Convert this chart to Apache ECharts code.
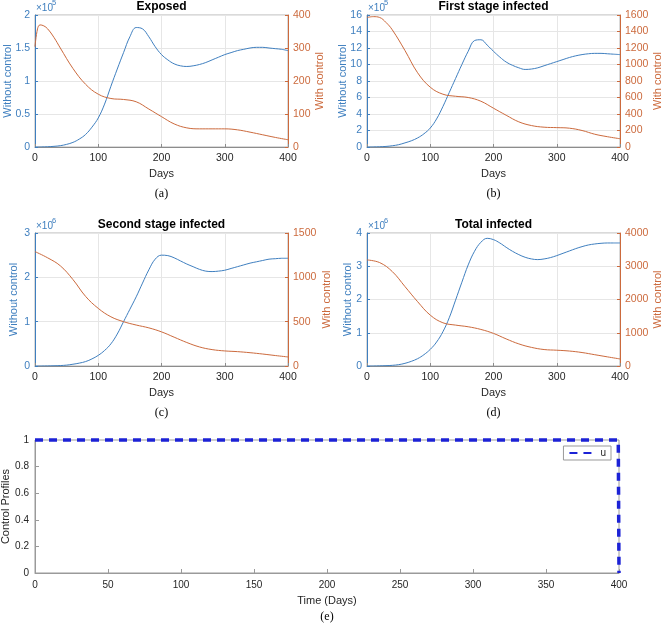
<!DOCTYPE html>
<html>
<head>
<meta charset="utf-8">
<script src="https://cdn.jsdelivr.net/npm/echarts@6/dist/echarts.min.js"></script>
<style>
html, body { margin: 0; padding: 0; background: #fff; }
#main { width: 664px; height: 624px; }
</style>
</head>
<body>
<div id="main"></div>
<script>
// days for the "without control" curves (every 10 days)
var days = [0,10,20,30,40,50,60,70,80,90,100,110,120,130,140,150,160,170,180,190,200,210,220,230,240,250,260,270,280,290,300,310,320,330,340,350,360,370,380,390,400];

// without control, in units of 10^5 (a, b) and 10^6 (c, d)
var exposedWithout = [0,0.001,0.004,0.01,0.02,0.04,0.07,0.12,0.19,0.30,0.44,0.65,0.92,1.18,1.43,1.67,1.81,1.79,1.67,1.52,1.40,1.32,1.26,1.23,1.22,1.23,1.25,1.28,1.32,1.36,1.40,1.43,1.46,1.48,1.50,1.51,1.51,1.50,1.49,1.48,1.46];
var firstWithout = [0,0.01,0.03,0.07,0.15,0.28,0.5,0.75,1.1,1.6,2.3,3.4,4.9,6.6,8.3,10.0,11.6,12.9,13.0,12.35,11.6,10.9,10.3,9.9,9.6,9.4,9.45,9.6,9.85,10.1,10.35,10.6,10.85,11.05,11.2,11.3,11.35,11.35,11.3,11.25,11.2];
var secondWithout = [0,0,0.002,0.005,0.01,0.02,0.04,0.065,0.1,0.16,0.24,0.35,0.5,0.72,1.0,1.28,1.56,1.87,2.17,2.41,2.50,2.49,2.44,2.37,2.30,2.24,2.18,2.14,2.13,2.14,2.16,2.20,2.24,2.28,2.32,2.35,2.38,2.41,2.42,2.43,2.43];
var totalWithout = [0,0,0.005,0.01,0.02,0.04,0.08,0.14,0.22,0.34,0.5,0.72,1.03,1.45,1.98,2.52,3.04,3.45,3.72,3.84,3.80,3.70,3.57,3.45,3.35,3.27,3.22,3.20,3.22,3.26,3.32,3.39,3.46,3.53,3.59,3.64,3.67,3.69,3.70,3.70,3.70];

// with control, [day, value]
var exposedWith = [[0,304],[4,358],[8,370],[14,367],[20,358],[30,332],[40,300],[60,238],[80,190],[100,160],[120,147],[140,144],[160,137],[180,115],[200,92],[220,70],[240,58],[260,55],[280,55],[300,55],[320,52],[340,45],[360,37],[380,29],[400,22]];
var firstWith = [[0,1570],[10,1580],[20,1570],[30,1510],[40,1420],[60,1170],[80,900],[100,725],[120,640],[140,615],[160,600],[180,555],[200,470],[220,385],[240,305],[260,260],[280,240],[300,235],[320,228],[340,200],[360,155],[380,125],[400,100]];
var secondWith = [[0,1290],[20,1220],[40,1130],[60,975],[80,785],[100,650],[120,555],[140,500],[160,462],[180,430],[200,385],[220,325],[240,265],[260,215],[280,185],[300,170],[320,162],[340,150],[360,135],[380,118],[400,102]];
var totalWith = [[0,3190],[20,3110],[40,2840],[60,2390],[80,1935],[100,1530],[120,1300],[140,1230],[160,1180],[180,1100],[200,980],[220,815],[240,665],[260,560],[280,495],[300,475],[320,450],[340,405],[360,340],[380,275],[400,212]];

var controlU = [[0,1],[399.5,1],[400,0]];

var blue = '#3F7FBF';
var orange = '#CC6A3D';
var dark = '#262626';
var font = '"Liberation Sans", Arial, sans-serif';

var panels = [
	{title: 'Exposed', cap: '(a)', exp: '5', left: 35, top: 15, h: 132, lmax: 2, lint: 0.5, rmax: 400, rint: 100, lGap: 22, rGap: 26, without: exposedWithout, withc: exposedWith},
	{title: 'First stage infected', cap: '(b)', exp: '5', left: 367, top: 15, h: 132, lmax: 16, lint: 2, rmax: 1600, rint: 200, lGap: 19, rGap: 32, without: firstWithout, withc: firstWith},
	{title: 'Second stage infected', cap: '(c)', exp: '6', left: 35, top: 233, h: 133, lmax: 3, lint: 1, rmax: 1500, rint: 500, lGap: 16, rGap: 33, without: secondWithout, withc: secondWith},
	{title: 'Total infected', cap: '(d)', exp: '6', left: 367, top: 233, h: 133, lmax: 4, lint: 1, rmax: 4000, rint: 1000, lGap: 14, rGap: 32, without: totalWithout, withc: totalWith}
];

var grids = [], xAxes = [], yAxes = [], series = [], graphics = [];

function plain(v) { return String(v); }

function txt(x, y, s, f, color, align) {
	graphics.push({
		type: 'text', x: x, y: y, z: 100,
		style: {text: s, font: f, fill: color, align: align || 'center', verticalAlign: 'middle'}
	});
}

panels.forEach(function (p, i) {
	var w = 253;
	grids.push({left: p.left, top: p.top, width: w, height: p.h, show: true, borderColor: '#b4b4b4', borderWidth: 1, outerBoundsMode: 'none', containLabel: false});
	xAxes.push({
		type: 'value', gridIndex: i, min: 0, max: 400, interval: 100,
		axisLine: {lineStyle: {color: '#8c8c8c'}},
		axisTick: {inside: true, length: 3, lineStyle: {color: '#8c8c8c'}},
		axisLabel: {color: dark, fontSize: 10.5, fontFamily: font, margin: 6, formatter: plain},
		splitLine: {show: true, lineStyle: {color: '#e6e6e6'}},
		name: 'Days', nameLocation: 'middle', nameGap: 21, nameMoveOverlap: false,
		nameTextStyle: {color: dark, fontSize: 11, fontFamily: font}
	});
	yAxes.push({
		type: 'value', gridIndex: i, position: 'left', min: 0, max: p.lmax, interval: p.lint,
		axisLine: {show: true, lineStyle: {color: blue}},
		axisTick: {show: true, inside: true, length: 3, lineStyle: {color: blue}},
		axisLabel: {color: blue, fontSize: 10.5, fontFamily: font, margin: 5, formatter: plain},
		splitLine: {show: true, lineStyle: {color: '#e6e6e6'}},
		name: 'Without control', nameLocation: 'middle', nameRotate: 90, nameGap: p.lGap, nameMoveOverlap: false,
		nameTextStyle: {color: blue, fontSize: 11, fontFamily: font}
	});
	yAxes.push({
		type: 'value', gridIndex: i, position: 'right', min: 0, max: p.rmax, interval: p.rint,
		axisLine: {show: true, lineStyle: {color: orange}},
		axisTick: {show: true, inside: true, length: 3, lineStyle: {color: orange}},
		axisLabel: {color: orange, fontSize: 10.5, fontFamily: font, margin: 5, formatter: plain},
		splitLine: {show: false},
		name: 'With control', nameLocation: 'middle', nameRotate: 90, nameGap: p.rGap, nameMoveOverlap: false,
		nameTextStyle: {color: orange, fontSize: 11, fontFamily: font}
	});
	series.push({
		type: 'line', xAxisIndex: i, yAxisIndex: 2 * i,
		data: days.map(function (d, k) { return [d, p.without[k]]; }),
		smooth: 0.4, symbol: 'none',
		lineStyle: {color: blue, width: 1}
	});
	series.push({
		type: 'line', xAxisIndex: i, yAxisIndex: 2 * i + 1, data: p.withc,
		smooth: 0.4, symbol: 'none',
		lineStyle: {color: orange, width: 1}
	});
	var cx = p.left + w / 2;
	txt(cx, p.top - 8, p.title, 'bold 12px ' + font, '#000');
	txt(cx, p.top + p.h + 47, p.cap, '12px "Liberation Serif", "Times New Roman", serif', '#000');
	txt(p.left + 1, p.top - 7, '\u00d710', '10px ' + font, blue, 'left');
	txt(p.left + 17, p.top - 12, p.exp, '7.5px ' + font, blue, 'left');
});

// (e) control profile
grids.push({left: 35, top: 440, width: 584, height: 133, show: true, borderColor: '#9a9a9a', borderWidth: 1, outerBoundsMode: 'none', containLabel: false});
xAxes.push({
	type: 'value', gridIndex: 4, min: 0, max: 400, interval: 50,
	axisLine: {lineStyle: {color: '#9a9a9a'}},
	axisTick: {inside: true, length: 4, lineStyle: {color: '#9a9a9a'}},
	axisLabel: {color: dark, fontSize: 10, fontFamily: font, margin: 7, formatter: plain},
	splitLine: {show: false},
	name: 'Time (Days)', nameLocation: 'middle', nameGap: 22, nameMoveOverlap: false,
	nameTextStyle: {color: dark, fontSize: 11, fontFamily: font}
});
yAxes.push({
	type: 'value', gridIndex: 4, min: 0, max: 1, interval: 0.2,
	axisLine: {show: true, lineStyle: {color: '#9a9a9a'}},
	axisTick: {show: true, inside: true, length: 4, lineStyle: {color: '#9a9a9a'}},
	axisLabel: {color: dark, fontSize: 10, fontFamily: font, margin: 6},
	splitLine: {show: false},
	name: 'Control Profiles', nameLocation: 'middle', nameRotate: 90, nameGap: 24, nameMoveOverlap: false,
	nameTextStyle: {color: dark, fontSize: 11, fontFamily: font}
});
series.push({
	name: 'u', type: 'line', xAxisIndex: 4, yAxisIndex: 8, data: controlU,
	symbol: 'none', clip: false,
	itemStyle: {color: '#1c22d6'},
	lineStyle: {color: '#1c22d6', width: 3.5, type: [8, 6]}
});
txt(327, 617, '(e)', '12px "Liberation Serif", "Times New Roman", serif', '#000');

var myChart = echarts.init(document.getElementById('main'));
var option = {
	animation: false,
	backgroundColor: '#fff',
	grid: grids,
	xAxis: xAxes,
	yAxis: yAxes,
	legend: {
		data: ['u'], right: 53, top: 446, orient: 'vertical',
		itemWidth: 26, itemHeight: 10, itemGap: 4,
		padding: [2, 5], borderColor: '#999', borderWidth: 1,
		itemStyle: {opacity: 0},
		textStyle: {color: dark, fontSize: 10, fontFamily: font}
	},
	series: series,
	graphic: graphics
};
myChart.setOption(option, true);
</script>
</body>
</html>
